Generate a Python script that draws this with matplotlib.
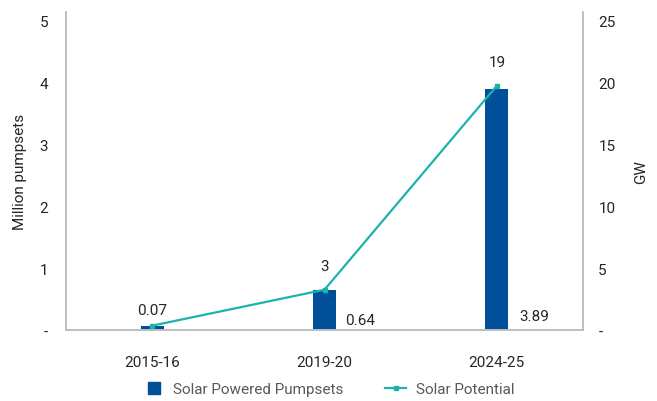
import matplotlib
matplotlib.use("Agg")
import matplotlib.pyplot as plt
from matplotlib.lines import Line2D

plt.rcParams['font.family'] = ['Roboto', 'DejaVu Sans']

# data
years = ["2015-16", "2019-20", "2024-25"]
pumpsets = [0.07, 0.64, 3.89]          # million pumpsets (left axis)
potential = [0.35, 3.25, 19.7]         # GW (right axis)
potential_labels = ["", "3", "19"]
left_ticks = [0, 1, 2, 3, 4, 5]
left_ticklabels = ["-", "1", "2", "3", "4", "5"]
right_ticks = [0, 5, 10, 15, 20, 25]
right_ticklabels = ["-", "5", "10", "15", "20", "25"]

bar_color = "#004f98"
line_color = "#1bb3ab"
spine_color = "#bfbfbf"
text_color = "#262626"

fig = plt.figure(figsize=(6.57, 4.02), dpi=100)
ax = fig.add_axes([66 / 657, 1 - 331 / 402, (583 - 66) / 657, (331 - 13) / 402])
x = list(range(len(years)))

ax.bar(x, pumpsets, width=0.135, color=bar_color, zorder=2)
ax.set_xlim(-0.5, 2.5)
ax.set_ylim(0, 5.13)
ax.set_yticks(left_ticks)
ax.set_yticklabels(left_ticklabels)
ax.set_xticks(x)
ax.set_xticklabels(years)

ax2 = ax.twinx()
ax2.plot(x, potential, color=line_color, lw=1.6, marker="s", ms=3, zorder=3)
ax2.set_ylim(0, 25.65)
ax2.set_yticks(right_ticks)
ax2.set_yticklabels(right_ticklabels)

fig.text(20 / 657, 1 - 172 / 402, "Million pumpsets", rotation=90, ha="center", va="center",
         fontsize=11, color=text_color)
fig.text(641 / 657, 1 - 172 / 402, "GW", rotation=90, ha="center", va="center",
         fontsize=11, color=text_color)

for a in (ax, ax2):
    a.tick_params(length=0, labelsize=11, colors=text_color)
    a.spines["top"].set_visible(False)
    for s in ("left", "right", "bottom"):
        a.spines[s].set_color(spine_color)
        a.spines[s].set_linewidth(1.2)
ax.tick_params(axis="y", pad=13)
ax2.tick_params(axis="y", pad=11)
ax.tick_params(axis="x", pad=18)

# bar value labels (offsets in pixels)
bar_offsets = [(0, 9), (36, 3), (37, 7)]
bar_anchor_top = [True, False, False]
for xi, v, off, top in zip(x, pumpsets, bar_offsets, bar_anchor_top):
    ax.annotate(f"{v:.2f}", (xi, v if top else 0), xytext=off, textcoords="offset pixels",
                ha="center", va="bottom", fontsize=11, color=text_color)

for xi, v, lab in zip(x, potential, potential_labels):
    if lab:
        ax2.annotate(lab, (xi, v), xytext=(0, 17), textcoords="offset pixels",
                     ha="center", va="bottom", fontsize=11, color=text_color)

handles = [
    Line2D([0], [0], color=bar_color, marker="s", ms=9, ls="none", label="Solar Powered Pumpsets"),
    Line2D([0], [0], color=line_color, lw=1.6, marker="s", ms=3, label="Solar Potential"),
]
leg = fig.legend(handles=handles, loc="center", bbox_to_anchor=(0.5, 0.03), ncol=2,
                 frameon=False, fontsize=11, handlelength=1.4, columnspacing=2.7,
                 handletextpad=0.6)
for t in leg.get_texts():
    t.set_color("#595959")

fig.savefig("out.png", dpi=100)
